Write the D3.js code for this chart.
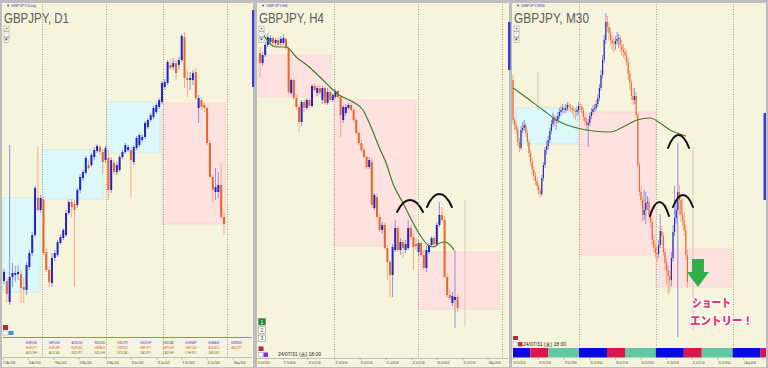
<!DOCTYPE html>
<html><head><meta charset="utf-8">
<script src="https://cdn.jsdelivr.net/npm/d3@7"></script>
<style>body{margin:0;background:#fff}svg{display:block}</style>
</head><body><svg id="c" width="768" height="368"></svg>
<script>
// ================= DATA =================
// ---- D1 (daily) ----
const d1Open=[191.77,191.77,190.37,192.03,192.17,192.23,192.23,191.37,191.17,192.70,
193.63,194.83,197.30,196.50,197.17,193.70,192.50,191.63,193.30,193.50,
194.30,194.63,194.83,196.30,197.03,196.90,196.83,197.83,198.63,198.97,
199.50,199.50,200.03,200.43,200.70,200.37,199.83,199.97,197.83,199.63,
199.03,199.17,200.03,200.37,200.50,200.50,199.70,200.63,200.83,201.17,
201.37,202.03,202.50,202.70,203.03,203.37,203.70,204.70,204.97,206.17,
206.03,206.30,206.17,206.50,208.03,205.30,205.17,205.17,205.70,203.30,
203.83,203.50,203.30,200.97,198.70,197.70,197.70,198.17,196.03];
const d1High=[192.57,191.97,200.83,192.97,192.77,192.83,192.50,192.03,193.03,193.83,
195.03,198.10,200.70,197.50,197.43,193.97,192.77,193.63,193.83,194.50,
194.90,195.30,196.50,197.23,197.23,197.17,197.97,198.90,199.17,200.10,
199.83,200.30,200.70,200.90,200.83,200.57,200.77,200.50,200.03,199.83,
199.70,200.17,200.50,200.97,200.83,200.70,200.83,201.43,201.63,201.57,
202.43,202.63,202.97,203.43,203.63,203.97,205.10,205.23,206.50,206.50,
206.63,206.50,206.70,208.23,208.37,205.83,205.70,205.83,205.97,204.17,
204.03,203.70,203.43,201.17,198.83,199.30,199.03,199.63,196.37];
const d1Low=[191.57,190.30,190.17,191.37,191.70,191.83,190.30,190.30,190.83,192.50,
193.43,194.70,196.37,196.30,193.50,192.37,191.37,191.37,193.10,193.37,
194.17,194.50,194.70,196.17,196.03,191.37,196.63,197.63,198.43,198.83,
199.17,199.37,199.83,200.30,200.17,198.97,199.63,197.17,197.63,198.83,
198.83,199.03,199.90,200.23,200.37,197.37,199.50,200.50,200.70,201.03,
201.23,201.90,202.37,202.57,202.90,203.23,203.57,204.57,204.83,205.83,
205.83,205.17,205.83,206.37,204.63,204.03,204.50,204.83,203.83,202.30,
203.17,203.03,200.83,198.63,197.03,197.17,197.30,195.90,194.83];
const d1Close=[192.37,190.90,192.03,192.30,192.30,192.37,191.30,191.17,192.83,193.63,
194.83,197.97,196.50,197.30,193.63,192.50,191.70,193.30,193.63,194.37,
194.70,195.17,196.30,197.03,196.70,196.50,197.83,198.70,199.03,199.97,
199.30,200.17,200.50,200.77,200.37,199.70,200.63,197.83,199.83,199.03,
199.50,200.03,200.37,200.83,200.70,199.83,200.70,201.30,201.50,201.37,
202.30,202.50,202.83,203.30,203.50,203.83,204.97,205.03,206.37,205.97,
206.30,205.63,206.50,208.10,205.30,205.17,205.30,205.63,203.97,203.97,
203.37,203.30,200.97,198.70,197.83,198.03,198.17,196.03,195.57];
const d1BoxStart=[-0.4,13.5,36.5,56.0];
const d1BoxEnd=[12.8,35.1,55.3,78.4];
const d1BoxHigh=[197.30,200.50,203.70,203.63];
const d1BoxLow=[191.03,197.23,200.30,195.57];
const d1BoxKind=["up","up","up","down"];
const d1Separators=[13.5,36.3,56.4,79.1];
const d1TickIdx=[-0.4,8.5,17.7,26.6,36.2,45,54.3,63.1,72,81.2];
const d1TickLbl=["11 Apr 2024","24 Apr 2024","7 May 2024","20 May 2024","31 May 2024","13 Jun 2024","26 Jun 2024","9 Jul 2024","22 Jul 2024","2 Aug 2024"];
const symRow1=["EURUSD","GBPUSD","AUDUSD","NZDUSD","USDJPY","USDCHF","USDCAD","EURGBP","EURAUD","EURNZD"];
const symRow2=["EURJPY","EURCHF","EURCAD","GBPAUD","GBPNZD","GBPJPY","GBPCHF","GBPCAD","AUDNZD","AUDJPY"];
const symRow3=["AUDCHF","AUDCAD","NZDJPY","NZDCHF","NZDCAD","CADJPY","CADCHF","CHFJPY","XAUUSD"];

// ---- H4 ----
const h4Open=[205.65,205.15,205.55,206.05,206.20,206.40,206.15,206.30,206.15,206.15,
206.35,205.90,203.65,204.30,203.40,202.95,202.20,203.20,202.90,203.30,
203.00,204.00,203.65,203.90,203.30,203.90,203.15,203.70,203.30,203.45,
203.75,203.45,202.30,202.65,202.90,203.05,202.80,202.30,201.65,201.15,
200.80,200.45,199.95,200.20,197.90,198.45,197.45,196.80,197.05,195.90,
195.20,194.55,195.80,196.90,195.80,196.20,195.80,195.90,196.90,196.45,
196.10,195.70,196.15,195.55,194.90,195.70,196.05,196.40,196.10,197.05,
197.55,197.30,194.45,193.55,193.15,193.30,193.45];
const h4High=[205.95,205.70,206.20,206.65,206.55,206.50,206.40,206.45,206.50,206.60,
206.45,206.00,204.40,204.40,203.55,203.10,203.30,203.35,203.40,203.40,
204.10,204.15,204.00,204.05,204.00,204.00,203.90,203.80,203.65,203.85,
203.80,203.55,203.05,203.10,203.15,203.15,202.90,202.40,201.75,201.30,
200.90,200.55,200.45,200.40,198.65,198.60,197.60,197.20,197.15,196.05,
195.30,196.10,197.30,197.00,196.40,196.30,196.30,197.30,197.05,196.65,
196.40,196.30,196.25,195.80,196.00,196.15,196.50,196.50,197.20,198.20,
197.95,197.50,194.65,193.80,193.70,195.80,193.60];
const h4Low=[204.45,205.00,205.45,205.95,206.05,206.00,206.00,205.95,206.00,206.05,
205.80,203.60,203.55,203.30,202.80,201.70,202.00,202.70,202.80,202.90,
202.90,203.70,203.50,203.55,203.10,203.05,203.05,203.20,203.20,203.35,
203.35,201.45,202.15,202.50,202.80,202.70,202.20,201.55,201.05,200.70,
200.35,199.85,199.85,197.90,197.80,197.35,196.70,196.60,195.80,194.30,
193.45,193.45,195.70,195.70,195.55,195.40,195.65,195.80,196.30,194.80,
195.80,195.50,195.45,194.80,194.70,195.60,195.95,195.95,196.00,196.95,
197.20,194.40,193.45,193.30,193.00,191.90,192.70];
const h4Close=[205.15,205.55,206.05,206.45,206.40,206.15,206.30,206.05,206.35,206.40,
205.90,203.70,204.30,203.40,202.95,202.20,203.20,202.90,203.30,203.00,
204.00,203.80,203.90,203.65,203.90,203.15,203.70,203.30,203.55,203.75,
203.45,202.55,202.95,202.95,203.05,202.80,202.30,201.65,201.15,200.80,
200.45,199.95,200.30,198.05,198.55,197.45,196.80,197.05,195.90,195.20,
194.55,195.95,196.90,195.80,196.20,195.90,196.10,196.90,196.45,195.95,
196.00,196.15,195.55,194.90,195.80,196.05,196.40,196.10,197.05,197.55,
197.30,194.45,193.55,193.40,193.50,193.45,192.90];
const h4MaIdx=[0.8,6.2,10,13.9,18.9,24.2,28.1,30.4,35.8,39.6,42.7,45.8,48.5,51.2,55,58.9,62.3,64.6,66.5,69.2,71.2,73.1,74.6];
const h4MaVal=[206.65,205.95,205.95,205.45,204.95,204.30,203.80,203.55,203.20,202.80,201.95,200.95,200.15,199.10,198.15,197.15,196.40,196.05,195.95,196.15,196.20,196.05,195.80];
const h4BoxStart=[-0.8,28.5,60.8];
const h4BoxEnd=[27.3,60.0,92.0];
const h4BoxHigh=[205.55,203.30,195.70];
const h4BoxLow=[203.45,196.00,192.85];
const h4Separators=[28.46,60.77,93.1];
const h4TickIdx=[-1.15,8.85,18.5,28.8,38.5,48.5,58.5,68.1,78.1,87.7];
const h4TickLbl=["15 Jul 2024","17 Jul 00:00","18 Jul 12:00","22 Jul 00:00","23 Jul 12:00","25 Jul 00:00","26 Jul 12:00","30 Jul 00:00","31 Jul 12:00","2 Aug 00:00"];
const h4Arcs=[[52.7,57.7,62.7,197.70,198.30],[64.2,68.8,73.8,197.95,198.60]]; // start, peak, end index; base price, peak price

// ---- M30 ----
const m30Open=[197.40,196.60,196.50,196.40,196.16,196.04,196.40,196.44,196.50,196.34,
196.16,195.94,195.76,195.60,195.48,195.38,195.28,195.18,195.12,195.44,
195.70,196.00,196.08,196.20,196.38,196.52,196.64,196.58,196.60,196.68,
196.76,196.80,196.84,196.80,196.84,196.90,196.86,196.84,196.80,196.78,
196.76,196.80,196.88,196.86,196.80,196.66,196.58,196.50,196.54,196.68,
196.76,196.82,196.84,196.92,197.04,197.24,197.50,197.80,198.20,198.56,
198.46,198.34,198.20,198.14,198.12,198.18,198.22,198.24,198.10,198.00,
197.96,197.90,197.76,197.52,197.34,197.08,197.00,197.08,196.70,195.70,
195.16,195.00,194.70,194.80,194.94,194.96,194.70,194.56,194.20,194.04,
193.94,193.92,194.10,194.38,194.28,193.96,193.74,193.58,193.48,193.40,
193.84,194.36,194.64,194.80,195.16,195.00,194.70,194.60,194.40,193.90];
const m30High=[197.50,196.66,196.56,196.46,196.24,196.48,196.56,196.60,196.54,196.40,
196.22,196.00,195.84,195.68,195.56,195.44,195.34,195.24,195.50,195.76,
196.06,196.18,196.28,196.44,196.60,196.74,196.70,196.68,196.76,196.84,
196.88,196.92,196.90,196.92,196.96,196.96,196.92,196.90,196.86,196.84,
196.88,196.96,196.94,196.92,196.86,196.72,196.64,196.62,196.74,196.84,
196.90,196.92,197.00,197.12,197.32,197.60,197.90,198.30,198.74,198.68,
198.56,198.44,198.30,198.24,198.28,198.36,198.32,198.30,198.20,198.12,
198.04,198.00,197.84,197.60,197.40,197.24,197.24,197.16,196.76,195.76,
195.28,195.06,195.20,195.16,195.08,195.04,194.80,194.64,194.30,194.12,
194.08,194.20,194.72,194.48,194.36,194.04,193.84,193.68,193.60,193.96,
194.50,195.28,195.00,196.14,195.30,195.08,195.04,194.76,194.50,194.00];
const m30Low=[196.52,196.40,196.32,196.08,195.96,196.00,196.34,196.38,196.26,196.08,
195.86,195.68,195.52,195.40,195.30,195.20,195.10,195.04,195.08,195.38,
195.64,195.90,196.00,196.14,196.32,196.46,196.48,196.40,196.54,196.62,
196.68,196.74,196.72,196.74,196.78,196.78,196.76,196.72,196.64,196.60,
196.68,196.72,196.76,196.72,196.58,196.50,196.40,196.06,196.48,196.62,
196.70,196.76,196.78,196.86,196.98,197.18,197.44,197.74,198.12,198.36,
198.20,198.08,198.00,197.96,198.00,198.10,198.04,197.96,197.88,197.84,
197.80,197.68,197.40,197.20,197.00,196.90,196.92,196.64,195.64,195.08,
194.88,194.56,194.60,194.52,194.80,194.60,194.44,194.10,193.96,193.84,
193.76,193.84,194.04,194.10,193.88,193.60,193.30,193.12,193.16,193.28,
193.76,194.28,194.52,192.26,194.70,194.56,194.48,194.28,193.80,193.24];
const m30Close=[196.60,196.50,196.40,196.16,196.04,196.40,196.44,196.50,196.34,196.16,
195.94,195.76,195.60,195.48,195.38,195.28,195.18,195.12,195.44,195.70,
196.00,196.08,196.20,196.38,196.52,196.64,196.58,196.60,196.68,196.76,
196.80,196.84,196.80,196.84,196.90,196.86,196.84,196.80,196.78,196.76,
196.80,196.88,196.86,196.80,196.66,196.58,196.50,196.54,196.68,196.76,
196.82,196.84,196.92,197.04,197.24,197.50,197.80,198.20,198.56,198.46,
198.34,198.20,198.14,198.12,198.18,198.22,198.24,198.10,198.00,197.96,
197.90,197.76,197.52,197.34,197.08,197.00,197.08,196.70,195.70,195.16,
195.00,194.70,194.80,194.94,194.96,194.70,194.56,194.20,194.04,193.94,
193.92,194.10,194.38,194.28,193.96,193.74,193.58,193.48,193.40,193.84,
194.36,194.64,194.80,195.16,195.00,194.70,194.60,194.40,193.90,193.36];
const m30MaIdx=[0,8.75,18.75,29.4,40,50,60.6,68.75,77.5,85.6,91.9,98.1,102.5,108];
const m30MaVal=[197.24,197.04,196.80,196.56,196.44,196.38,196.36,196.46,196.60,196.64,196.54,196.40,196.34,196.28];
const m30BoxStart=[1.9,41.25,89.25];
const m30BoxEnd=[40.6,89.25,136.9];
const m30BoxHigh=[196.84,196.76,194.02];
const m30BoxLow=[196.12,193.90,193.26];
const m30BoxKind=["up","down","down"];
const m30Separators=[41.25,89.25,137.25];
const m30TickIdx=[0,16,32,48,64,80,96,112,128,144];
const m30TickLbl=["29 Jul 2024","29 Jul 11:00","29 Jul 19:00","30 Jul 03:00","30 Jul 11:00","30 Jul 19:00","31 Jul 03:00","31 Jul 11:00","31 Jul 19:00","1 Aug 03:00"];
const m30DayStart=[-6.75,41.25,89.25,137.25];
const sessionStart=[0,17.5,28.75];   // bars from day start
const sessionEnd=[17.5,28.75,48];
const sessionColor=["#0808e0","#d8184a","#62c8a4"];
const m30Arcs=[[85.6,91.9,97.5,194.68,194.96],[100,106.25,112.5,194.86,195.10],[96.9,103.1,110,196.04,196.30]];
const m30Arrow=[115.6,193.82,193.56,193.26]; // index, top price, neck price, tip price
const m30Note=["ショート","エントリー！"];

// ================= RENDER =================
const svg=d3.select('#c');
const CREAM="#f6f4dc", CYAN="#dcf8f8", PINK="#fde2df";
const UP="#2323c4", DN="#e8662e", UPW="#8a86d8", DNW="#f0a47c";
svg.append('rect').attr('width',768).attr('height',368).attr('fill','#bdbdbd');
const defs=svg.append('defs');

function makePanel(cfg){
  const g=svg.append('g');
  g.append('rect').attr('x',cfg.left).attr('y',cfg.top).attr('width',cfg.right-cfg.left).attr('height',cfg.bottom-cfg.top).attr('fill',CREAM);
  const x=d3.scaleLinear().domain(cfg.xd).range(cfg.xr);
  const y=d3.scaleLinear().domain(cfg.yd).range(cfg.yr);
  defs.append('clipPath').attr('id',cfg.id).append('rect')
    .attr('x',cfg.left).attr('y',cfg.top).attr('width',cfg.right-cfg.left).attr('height',cfg.plotBottom-cfg.top);
  const p=g.append('g').attr('clip-path',`url(#${cfg.id})`);
  return {g,p,x,y,cfg};
}
function boxes(P,s,e,hi,lo,kind){
  P.p.selectAll(null).data(d3.range(s.length)).join('rect')
    .attr('x',i=>P.x(s[i])).attr('width',i=>P.x(e[i])-P.x(s[i]))
    .attr('y',i=>P.y(hi[i])).attr('height',i=>P.y(lo[i])-P.y(hi[i]))
    .attr('fill',i=>kind[i]==="up"?CYAN:PINK)
    .attr('stroke',i=>kind[i]==="up"?"#c4e4e4":"#f6cfcb").attr('stroke-width',0.6);
}
function seps(P,arr,y1,y2){
  P.g.selectAll(null).data(arr).join('line')
    .attr('x1',d=>Math.round(P.x(d))+0.5).attr('x2',d=>Math.round(P.x(d))+0.5)
    .attr('y1',y1).attr('y2',y2).attr('stroke','#8a8a8a').attr('stroke-width',0.8).attr('stroke-dasharray','1,1.5');
}
function candles(P,O,Hh,L,C,bw){
  const idx=d3.range(O.length);
  P.p.selectAll(null).data(idx).join('line')
    .attr('x1',i=>P.x(i)).attr('x2',i=>P.x(i))
    .attr('y1',i=>P.y(Hh[i])).attr('y2',i=>P.y(L[i]))
    .attr('stroke',i=>C[i]>=O[i]?UPW:DNW).attr('stroke-width',0.9);
  P.p.selectAll(null).data(idx).join('rect')
    .attr('x',i=>P.x(i)-bw/2).attr('width',bw)
    .attr('y',i=>P.y(Math.max(O[i],C[i])))
    .attr('height',i=>Math.max(1,Math.abs(P.y(O[i])-P.y(C[i]))))
    .attr('fill',i=>C[i]>=O[i]?UP:DN);
}
function ma(P,idx,val){
  const line=d3.line().x(d=>P.x(d[0])).y(d=>P.y(d[1])).curve(d3.curveMonotoneX);
  P.p.append('path').attr('d',line(idx.map((d,i)=>[d,val[i]])))
    .attr('fill','none').attr('stroke','#3b7f2c').attr('stroke-width',1.2);
}
function arcs(P,list){
  P.p.selectAll(null).data(list).join('path')
    .attr('d',a=>{
      const x0=P.x(a[0]),x1=P.x(a[2]),yb=P.y(a[3]),yp=P.y(a[4]);
      const cy=(yp-0.25*yb)/0.75;
      const w=x1-x0;
      return `M${x0},${yb} C${x0+0.3*w},${cy} ${x1-0.3*w},${cy} ${x1},${yb}`;
    })
    .attr('fill','none').attr('stroke','#111').attr('stroke-width',2).attr('stroke-linecap','round');
}
function ticks(P,idx,lbl,yText){
  P.g.selectAll(null).data(idx).join('text')
    .attr('x',d=>P.x(d)+0.5).attr('y',yText).text((d,i)=>lbl[i])
    .attr('font-family','Liberation Sans, Arial, sans-serif').attr('font-size',4.3).attr('fill','#333')
    .attr('textLength',12).attr('lengthAdjust','spacingAndGlyphs');
  P.g.selectAll(null).data(idx).join('line')
    .attr('x1',d=>P.x(d)).attr('x2',d=>P.x(d)).attr('y1',yText-6).attr('y2',yText-4.5)
    .attr('stroke','#666').attr('stroke-width',0.5);
}
function titles(P,x0,big,small){
  P.g.append('text').attr('x',x0+2).attr('y',7).text('▼ '+small)
    .attr('font-family','Liberation Sans, Arial').attr('font-size',4).attr('fill','#4040b0');
  P.g.append('text').attr('x',x0).attr('y',22.5).text(big)
    .attr('font-family','Liberation Sans, Arial, sans-serif').attr('font-size',14).attr('fill','#5c5c5c')
    .attr('textLength',big.length>10?75:65).attr('lengthAdjust','spacingAndGlyphs');
  ['+','-','▾'].forEach((s,k)=>{
    P.g.append('rect').attr('x',x0).attr('y',26+k*5.6).attr('width',5).attr('height',5)
      .attr('fill','#fff').attr('stroke','#8a8a8a').attr('stroke-width',0.5);
    P.g.append('text').attr('x',x0+2.5).attr('y',29.8+k*5.6).attr('text-anchor','middle').text(s)
      .attr('font-size',4.5).attr('fill','#333').attr('font-family','Liberation Sans');
  });
}
function faint(P,i,p1,p2){
  P.p.append('line').attr('x1',P.x(i)).attr('x2',P.x(i)).attr('y1',P.y(p1)).attr('y2',P.y(p2))
    .attr('stroke','#cfc4aa').attr('stroke-width',0.8);
}

// ---- Panel 1: D1 ----
const P1=makePanel({id:'c1',left:2,right:253,top:3,bottom:367,plotBottom:337,
  xd:[0,78],xr:[4,224],yd:[210.5,188.0],yr:[0,337.5]});
boxes(P1,d1BoxStart,d1BoxEnd,d1BoxHigh,d1BoxLow,d1BoxKind);
seps(P1,d1Separators,4,357);
candles(P1,d1Open,d1High,d1Low,d1Close,2);
P1.g.append('line').attr('x1',3).attr('x2',252).attr('y1',337.5).attr('y2',337.5).attr('stroke','#6a6ac8').attr('stroke-width',0.8);
P1.g.append('line').attr('x1',3).attr('x2',252).attr('y1',357.5).attr('y2',357.5).attr('stroke','#9a9aa8').attr('stroke-width',0.6);
[symRow1,symRow2,symRow3].forEach((row,r)=>{
  P1.g.selectAll(null).data(row).join('text')
    .attr('x',(d,k)=>26+k*22.8).attr('y',343.5+r*5.3).text(d=>d)
    .attr('font-family','Liberation Sans, Arial').attr('font-size',4.4)
    .attr('fill',['#3b3bb8','#e0583a','#4b8a3c'][r])
    .attr('textLength',11).attr('lengthAdjust','spacingAndGlyphs');
});
ticks(P1,d1TickIdx,d1TickLbl,364);
titles(P1,4,'GBPJPY, D1','GBPJPY,Daily');
P1.g.append('rect').attr('x',3).attr('y',325).attr('width',5).attr('height',5).attr('fill','#b03030');
P1.g.append('rect').attr('x',3).attr('y',331).attr('width',5).attr('height',4).attr('fill','#fff').attr('stroke','#888').attr('stroke-width',0.4);
P1.g.append('rect').attr('x',8.5).attr('y',331).attr('width',5).attr('height',4).attr('fill','#3a8ee0');
P1.g.append('rect').attr('x',252).attr('y',10).attr('width',2.2).attr('height',77).attr('fill','#3c3cd0');

// ---- Panel 2: H4 ----
const P2=makePanel({id:'c2',left:257,right:509,top:3,bottom:367,plotBottom:358,
  xd:[0,76],xr:[260,457.6],yd:[208.3,190.0],yr:[0,366]});
boxes(P2,h4BoxStart,h4BoxEnd,h4BoxHigh,h4BoxLow,["down","down","down"]);
seps(P2,h4Separators,4,358);
faint(P2,78.8,198.3,191.95);
candles(P2,h4Open,h4High,h4Low,h4Close,2);
ma(P2,h4MaIdx,h4MaVal);
arcs(P2,h4Arcs);
P2.g.append('line').attr('x1',258).attr('x2',508).attr('y1',358.5).attr('y2',358.5).attr('stroke','#9a9aa8').attr('stroke-width',0.6);
ticks(P2,h4TickIdx,h4TickLbl,364);
titles(P2,259,'GBPJPY, H4','GBPJPY,H4');
[['1','#1f8a2a','#fff'],['2','#fff','#333'],['3','#fff','#333']].forEach((b,k)=>{
  P2.g.append('rect').attr('x',258.5).attr('y',318.5+k*8.3).attr('width',7).attr('height',6.5)
    .attr('fill',b[1]).attr('stroke','#777').attr('stroke-width',0.5);
  P2.g.append('text').attr('x',262).attr('y',323.6+k*8.3).attr('text-anchor','middle').text(b[0])
    .attr('font-size',5).attr('fill',b[2]).attr('font-family','Liberation Sans');
});
P2.g.append('rect').attr('x',258.5).attr('y',346.5).attr('width',5).attr('height',4.5).attr('fill','#b03030');
P2.g.append('rect').attr('x',258.5).attr('y',352.5).attr('width',4.5).attr('height',4.5).attr('fill','#fff').attr('stroke','#888').attr('stroke-width',0.4);
P2.g.append('rect').attr('x',263.5).attr('y',352.5).attr('width',4.5).attr('height',4.5).attr('fill','#8a2be2');
P2.g.append('text').attr('x',278).attr('y',356).text('24/07/31 (水) 18:00')
  .attr('font-size',5).attr('fill','#222').attr('font-family','Liberation Sans, Noto Sans CJK JP');
P2.g.append('rect').attr('x',508).attr('y',22).attr('width',2.5).attr('height',48).attr('fill','#3c3cd0');

// ---- Panel 3: M30 ----
const P3=makePanel({id:'c3',left:512,right:766,top:3,bottom:367,plotBottom:347.5,
  xd:[0,109],xr:[513,687.4],yd:[199,191.7],yr:[0,365]});
boxes(P3,m30BoxStart,m30BoxEnd,m30BoxHigh,m30BoxLow,m30BoxKind);
seps(P3,m30Separators,4,347);
faint(P3,15.6,197.56,196.80);
faint(P3,112.5,196.06,192.40);
candles(P3,m30Open,m30High,m30Low,m30Close,1.1);
ma(P3,m30MaIdx,m30MaVal);
arcs(P3,m30Arcs);
// session bar
defs.append('clipPath').attr('id','sess').append('rect').attr('x',513).attr('y',347).attr('width',253).attr('height',12);
const sess=[];
m30DayStart.forEach(d=>sessionStart.forEach((s,k)=>sess.push([d+s,d+sessionEnd[k],k])));
P3.g.append('g').attr('clip-path','url(#sess)').selectAll(null).data(sess).join('rect')
  .attr('x',s=>P3.x(s[0])).attr('width',s=>P3.x(s[1])-P3.x(s[0]))
  .attr('y',348).attr('height',9.5).attr('fill',s=>sessionColor[s[2]]);
ticks(P3,m30TickIdx,m30TickLbl,364);
titles(P3,514,'GBPJPY, M30','GBPJPY,M30');
P3.g.append('rect').attr('x',513).attr('y',336).attr('width',5).attr('height',4).attr('fill','#b03030');
P3.g.append('rect').attr('x',513).attr('y',342).attr('width',4.5).attr('height',4.5).attr('fill','#fff').attr('stroke','#888').attr('stroke-width',0.4);
P3.g.append('rect').attr('x',518).attr('y',342).attr('width',4.5).attr('height',4.5).attr('fill','#c03040');
P3.g.append('text').attr('x',523).attr('y',346).text('24/07/31 (水) 18:00')
  .attr('font-size',5).attr('fill','#222').attr('font-family','Liberation Sans, Noto Sans CJK JP');
P3.g.append('rect').attr('x',763.5).attr('y',113).attr('width',2.5).attr('height',87).attr('fill','#3c3cd0');
// green arrow
{
  const cx=P3.x(m30Arrow[0]),yt=P3.y(m30Arrow[1]),yn=P3.y(m30Arrow[2]),yb=P3.y(m30Arrow[3]);
  P3.g.append('path').attr('d',`M${cx-6},${yt} H${cx+6} V${yn} H${cx+11} L${cx},${yb} L${cx-11},${yn} H${cx-6} Z`)
    .attr('fill','#2fae4c');
}
// note text: two lines, spaced so their boxes do not overlap
m30Note.forEach((t,k)=>{
  P3.g.append('text').attr('x',P3.x(k?110.6:111.9)).attr('y',P3.y(k?192.51:192.86)).text(t)
    .attr('font-family','Noto Sans CJK JP').attr('font-weight','900').attr('font-size',11.3)
    .attr('fill','#e8336e').attr('stroke','#fff').attr('stroke-width',2.6).attr('paint-order','stroke')
    .attr('stroke-linejoin','round')
    .attr('textLength',k?63:39).attr('lengthAdjust','spacingAndGlyphs');
});
</script></body></html>
